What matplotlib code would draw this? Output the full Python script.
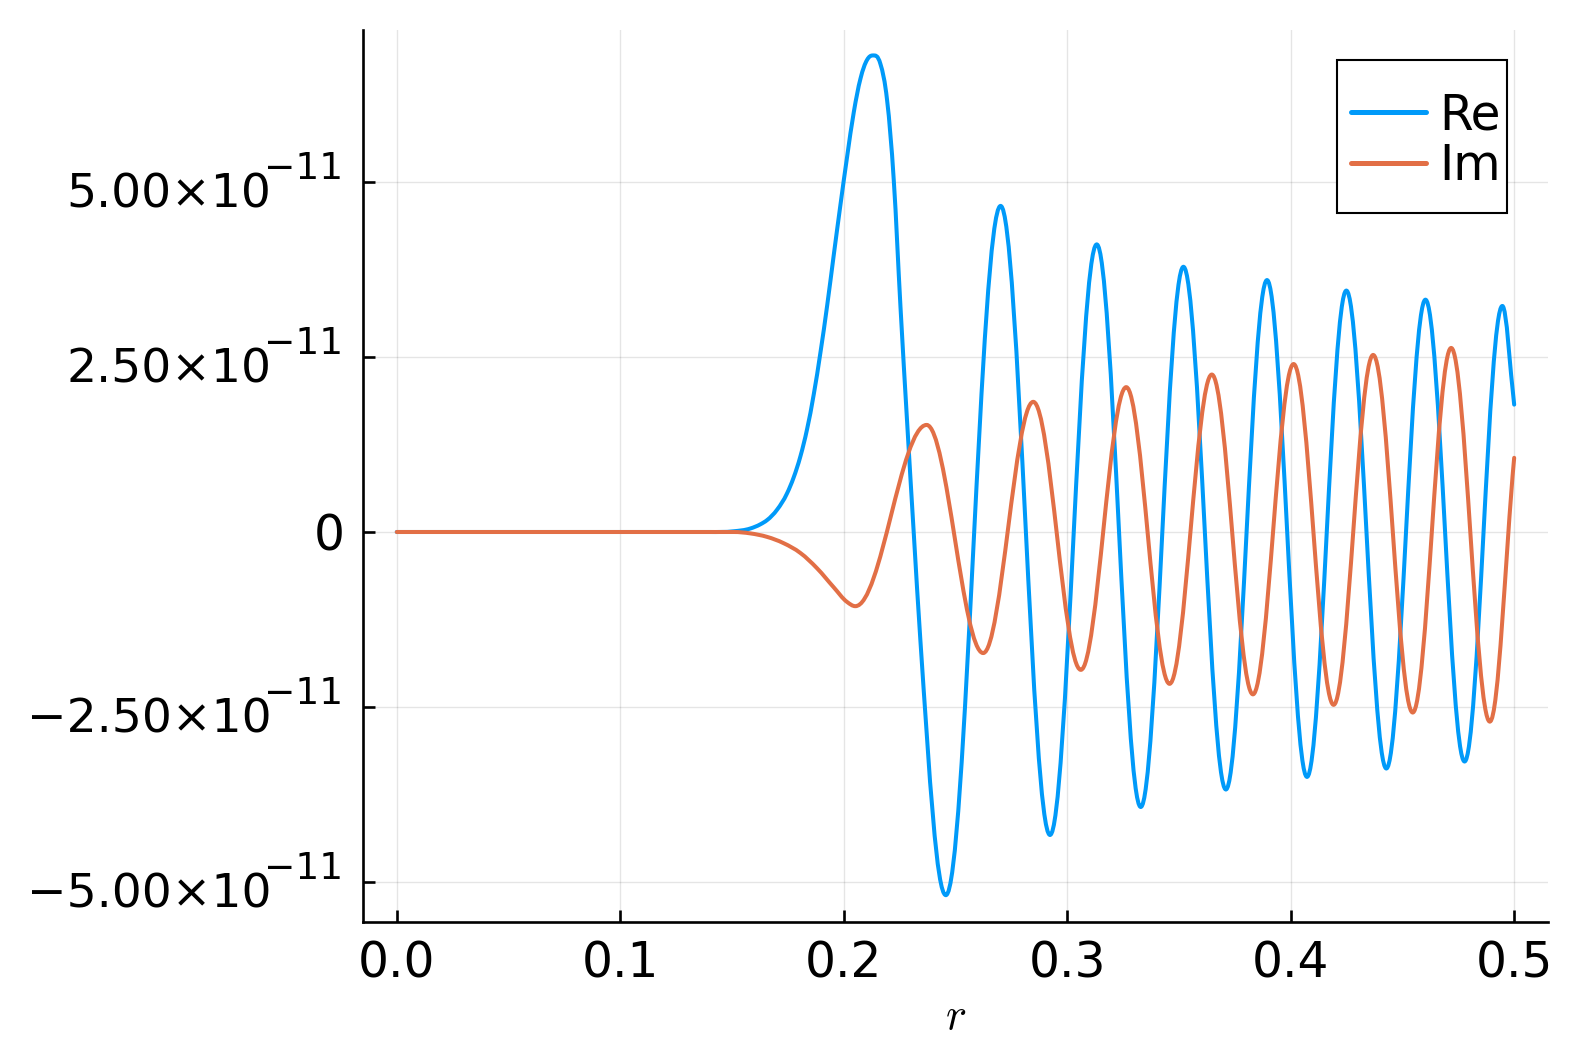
import numpy as np
import matplotlib
matplotlib.use("Agg")
import matplotlib.pyplot as plt
from matplotlib.path import Path
from matplotlib.patches import PathPatch, Rectangle
from matplotlib.lines import Line2D

# values (r, value in units of 1e-11)
re_r = [0.0, 0.1400, 0.1507, 0.1582, 0.1627, 0.1657, 0.1702, 0.1746, 0.1776, 0.1806,
        0.1836, 0.1866, 0.1896, 0.1926, 0.1955, 0.1985, 0.2015, 0.2045, 0.2075, 0.2105,
        0.2130, 0.2164, 0.2194, 0.2224, 0.2254, 0.2284, 0.2313, 0.2343,
        0.2457, 0.2702, 0.2923, 0.3132, 0.3329, 0.3520, 0.3710, 0.3894, 0.4073,
        0.4249, 0.4428, 0.4603, 0.4778, 0.4947, 0.5000]
re_v = [0.0, 0.0, 0.01, 0.05, 0.11, 0.17, 0.32, 0.55, 0.78, 1.08,
        1.47, 1.97, 2.57, 3.24, 3.95, 4.67, 5.36, 6.00, 6.48, 6.75,
        6.81, 6.69, 6.17, 5.02, 3.21, 1.55, 0.0, -1.55,
        -5.19, 4.66, -4.33, 4.11, -3.93, 3.79, -3.68, 3.60, -3.50,
        3.45, -3.38, 3.32, -3.28, 3.23, 1.82]

im_r = [0.0, 0.1507, 0.1582, 0.1657, 0.1731, 0.1806, 0.1881, 0.1955, 0.2015, 0.2052,
        0.2371, 0.2624, 0.2848, 0.3061, 0.3264, 0.3458, 0.3647, 0.3831, 0.4013,
        0.4192, 0.4369, 0.4546, 0.4718, 0.4891, 0.5000]
im_v = [0.0, 0.0, -0.02, -0.07, -0.16, -0.30, -0.52, -0.79, -1.00, -1.06,
        1.53, -1.73, 1.86, -1.97, 2.07, -2.17, 2.25, -2.32, 2.40,
        -2.47, 2.53, -2.58, 2.63, -2.71, 1.06]

yticks = [-5e-11, -2.5e-11, 0, 2.5e-11, 5e-11]
ytick_base = ["\u22125.00\u00d710", "\u22122.50\u00d710", "0", "2.50\u00d710", "5.00\u00d710"]
ytick_exp = ["\u221211", "\u221211", "", "\u221211", "\u221211"]
xticks = [0.0, 0.1, 0.2, 0.3, 0.4, 0.5]
xtick_labels = ["0.0", "0.1", "0.2", "0.3", "0.4", "0.5"]

blue = "#009AF9"
orange = "#E26F46"


def smooth_path(xs, ys, k=0.36):
    # cubic bezier through the read points, flat at the turning points
    xs = np.asarray(xs, float)
    ys = np.asarray(ys, float) * 1e-11
    n = len(xs)
    m = np.zeros(n)
    for i in range(n):
        if i == 0:
            m[i] = (ys[1] - ys[0]) / (xs[1] - xs[0])
        elif i == n - 1:
            m[i] = (ys[-1] - ys[-2]) / (xs[-1] - xs[-2])
        else:
            h0 = xs[i] - xs[i - 1]
            h1 = xs[i + 1] - xs[i]
            d0 = (ys[i] - ys[i - 1]) / h0
            d1 = (ys[i + 1] - ys[i]) / h1
            if d0 * d1 <= 0:
                m[i] = 0.0
            else:
                m[i] = (d0 * h1 + d1 * h0) / (h0 + h1)
    verts = [(xs[0], ys[0])]
    codes = [Path.MOVETO]
    for i in range(n - 1):
        h = xs[i + 1] - xs[i]
        verts += [(xs[i] + k * h, ys[i] + k * h * m[i]),
                  (xs[i + 1] - k * h, ys[i + 1] - k * h * m[i + 1]),
                  (xs[i + 1], ys[i + 1])]
        codes += [Path.CURVE4] * 3
    return Path(verts, codes)


fig = plt.figure(figsize=(15.78, 10.52), dpi=100)
ax = fig.add_axes([0.2302, 0.1238, 0.7506, 0.8481])

lw = 2.9
ax.add_patch(PathPatch(smooth_path(re_r, re_v), fill=False, edgecolor=blue,
                       lw=lw, capstyle="round", joinstyle="round", zorder=3))
ax.add_patch(PathPatch(smooth_path(im_r, im_v), fill=False, edgecolor=orange,
                       lw=lw, capstyle="round", joinstyle="round", zorder=3))

ax.set_xlim(-0.015, 0.515)
ax.set_ylim(-5.57e-11, 7.18e-11)

ax.set_xticks(xticks)
ax.set_xticklabels(xtick_labels)
ax.set_yticks(yticks)
ax.set_yticklabels(["" if e else b for b, e in zip(ytick_base, ytick_exp)])

# y labels with a raised exponent, as in the original
ytrans = ax.get_yaxis_transform()
for v, b, e in zip(yticks, ytick_base, ytick_exp):
    if not e:
        continue
    ax.annotate(b, xy=(0, v), xycoords=ytrans, xytext=(-66.0, -18.3),
                textcoords="offset points", ha="right", va="baseline", fontsize=34)
    ax.annotate(e, xy=(0, v), xycoords=ytrans, xytext=(-14.5, 2.3),
                textcoords="offset points", ha="right", va="baseline", fontsize=27)

ax.grid(True, color="black", alpha=0.1, lw=1.0)
ax.set_axisbelow(True)
for s in ["top", "right"]:
    ax.spines[s].set_visible(False)
for s in ["left", "bottom"]:
    ax.spines[s].set_linewidth(1.9)

ax.tick_params(direction="in", length=8.6, width=1.9, labelsize=35)
ax.tick_params(axis="y", pad=13.5)
ax.tick_params(axis="x", pad=13)

ax.set_xlabel(r"$r$", fontsize=32, math_fontfamily="cm", labelpad=5)

# legend: box drawn separately so its padding can match the original
ax.add_patch(Rectangle((0.8217, 0.7939), 0.1436, 0.1715, transform=ax.transAxes,
                       facecolor="white", edgecolor="black", lw=1.5, zorder=4))
handles = [Line2D([], [], color=blue, lw=3.6, solid_capstyle="round"),
           Line2D([], [], color=orange, lw=3.6, solid_capstyle="round")]
leg = ax.legend(handles, ["Re", "Im"], loc="center", bbox_to_anchor=(0.8970, 0.8758),
                frameon=False, fontsize=35, handlelength=1.55, handletextpad=0.26,
                borderpad=0.2, labelspacing=0.05)
leg.set_zorder(5)

fig.savefig("out.png", dpi=100)
